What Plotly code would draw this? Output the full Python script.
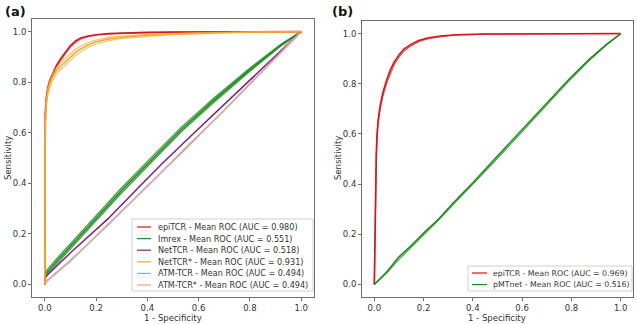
import plotly.graph_objects as go

# ---------------- data ----------------
# Panel (a)
a_names = ["epiTCR", "Imrex", "NetTCR", "NetTCR*", "ATM-TCR", "ATM-TCR*"]
a_auc = ["0.980", "0.551", "0.518", "0.931", "0.494", "0.494"]
a_colors = ["#d8141c", "#1f8a1f", "#7a1f82", "#f7a928", "#66c6cf", "#f2a09a"]

epi_a_x = [0, 0, 0.002, 0.006, 0.012, 0.02, 0.03, 0.045, 0.06, 0.08, 0.1, 0.12, 0.14, 0.17, 0.2, 0.25, 0.3, 0.4, 0.5, 0.7, 1.0]
epi_a_y = [0, 0.62, 0.68, 0.74, 0.78, 0.81, 0.835, 0.865, 0.89, 0.92, 0.945, 0.963, 0.975, 0.983, 0.988, 0.992, 0.994, 0.997, 0.998, 0.999, 1.0]
epi_a_fold_y = [0, 0.60, 0.67, 0.73, 0.775, 0.805, 0.83, 0.858, 0.882, 0.912, 0.938, 0.957, 0.97, 0.98, 0.986, 0.991, 0.993, 0.996, 0.998, 0.999, 1.0]

imrex_x = [0, 0.003, 0.05, 0.1, 0.193, 0.3, 0.375, 0.414, 0.531, 0.661, 0.792, 0.922, 1.0]
imrex_y = [0, 0.04, 0.095, 0.152, 0.254, 0.372, 0.452, 0.49, 0.611, 0.73, 0.843, 0.948, 1.0]
imrex_fold1_y = [0, 0.05, 0.105, 0.162, 0.264, 0.382, 0.462, 0.5, 0.62, 0.738, 0.849, 0.951, 1.0]
imrex_fold2_y = [0, 0.03, 0.086, 0.143, 0.245, 0.363, 0.443, 0.481, 0.603, 0.722, 0.837, 0.944, 1.0]

nettcr_x = [0, 0.003, 0.1, 0.245, 0.375, 0.46, 0.583, 0.727, 0.857, 1.0]
nettcr_y = [0, 0.03, 0.125, 0.258, 0.393, 0.48, 0.600, 0.737, 0.863, 1.0]

netstar_x = [0, 0, 0.002, 0.006, 0.012, 0.02, 0.03, 0.045, 0.06, 0.08, 0.1, 0.12, 0.14, 0.17, 0.2, 0.25, 0.3, 0.4, 0.5, 0.6, 0.7, 0.85, 1.0]
netstar_y = [0, 0.55, 0.64, 0.72, 0.765, 0.795, 0.82, 0.845, 0.862, 0.88, 0.9, 0.918, 0.932, 0.948, 0.96, 0.971, 0.978, 0.986, 0.991, 0.994, 0.997, 0.999, 1.0]
netstar_fold1_y = [0, 0.57, 0.66, 0.735, 0.778, 0.806, 0.832, 0.857, 0.875, 0.894, 0.913, 0.93, 0.943, 0.957, 0.967, 0.977, 0.983, 0.989, 0.993, 0.996, 0.998, 0.999, 1.0]
netstar_fold2_y = [0, 0.53, 0.62, 0.705, 0.752, 0.783, 0.808, 0.832, 0.849, 0.867, 0.887, 0.905, 0.92, 0.938, 0.951, 0.964, 0.973, 0.982, 0.988, 0.992, 0.996, 0.999, 1.0]

atm_x = [0, 0.005, 0.1, 0.25, 0.4, 0.55, 0.7, 0.85, 1.0]
atm_y = [0, 0.012, 0.095, 0.238, 0.39, 0.537, 0.69, 0.843, 1.0]
atmstar_x = [0, 0.005, 0.1, 0.25, 0.4, 0.55, 0.7, 0.85, 1.0]
atmstar_y = [0, 0.01, 0.092, 0.242, 0.387, 0.541, 0.688, 0.846, 1.0]

# Panel (b)
b_names = ["epiTCR", "pMTnet"]
b_auc = ["0.969", "0.516"]
b_colors = ["#d8141c", "#1f8a1f"]

epi_b_x = [0, 0.002, 0.005, 0.008, 0.011, 0.016, 0.024, 0.035, 0.05, 0.065, 0.08, 0.1, 0.12, 0.15, 0.18, 0.22, 0.27, 0.33, 0.45, 0.6, 0.8, 1.0]
epi_b_y = [0, 0.2, 0.4, 0.52, 0.6, 0.66, 0.715, 0.765, 0.815, 0.855, 0.885, 0.915, 0.938, 0.958, 0.972, 0.983, 0.99, 0.995, 0.998, 0.999, 1.0, 1.0]
epi_b_fold_y = [0, 0.18, 0.37, 0.5, 0.58, 0.645, 0.70, 0.752, 0.803, 0.843, 0.875, 0.906, 0.93, 0.952, 0.968, 0.98, 0.988, 0.994, 0.998, 0.999, 1.0, 1.0]

pmt_x = [0, 0.05, 0.1, 0.15, 0.2, 0.26, 0.32, 0.4, 0.483, 0.56, 0.64, 0.72, 0.794, 0.87, 0.94, 1.0]
pmt_y = [0, 0.05, 0.11, 0.155, 0.205, 0.26, 0.325, 0.405, 0.494, 0.575, 0.66, 0.745, 0.822, 0.895, 0.955, 1.0]
pmt_fold_y = [0, 0.045, 0.1, 0.148, 0.2, 0.256, 0.318, 0.398, 0.485, 0.566, 0.652, 0.737, 0.815, 0.89, 0.952, 1.0]

tick_vals = [0.0, 0.2, 0.4, 0.6, 0.8, 1.0]
tick_text = ["0.0", "0.2", "0.4", "0.6", "0.8", "1.0"]

# ---------------- figure ----------------
W, H = 637, 324
FONT = "DejaVu Sans"
TXT = "#333333"
fig = go.Figure()


def add(x, y, color, axis, width=1.5, opacity=1.0):
    fig.add_trace(go.Scatter(
        x=x, y=y, mode="lines", xaxis="x" + axis, yaxis="y" + axis,
        line=dict(color=color, width=width), opacity=opacity,
        showlegend=False, hoverinfo="skip"))


# panel (a) – folds (thin, lighter) then means
add(epi_a_x, epi_a_fold_y, a_colors[0], "", 1.2, 0.6)
add(imrex_x, imrex_fold1_y, a_colors[1], "", 1.5, 0.8)
add(imrex_x, imrex_fold2_y, a_colors[1], "", 1.5, 0.8)
add(imrex_x, imrex_y, a_colors[1], "", 1.5)
add(nettcr_x, nettcr_y, a_colors[2], "", 1.5)
add(atm_x, atm_y, a_colors[4], "", 1.5)
add(atmstar_x, atmstar_y, a_colors[5], "", 1.5)
add(epi_a_x, epi_a_y, a_colors[0], "", 1.6)
add(netstar_x, netstar_fold1_y, a_colors[3], "", 1.2, 0.7)
add(netstar_x, netstar_fold2_y, a_colors[3], "", 1.2, 0.7)
add(netstar_x, netstar_y, a_colors[3], "", 1.5)

# panel (b)
add(epi_b_x, epi_b_fold_y, b_colors[0], "2", 1.3, 0.7)
add(epi_b_x, epi_b_y, b_colors[0], "2", 1.6)
add(pmt_x, pmt_fold_y, b_colors[1], "2", 1.2, 0.8)
add(pmt_x, pmt_y, b_colors[1], "2", 1.5)

# axes
left_dom = [32 / W, 314 / W]
right_dom = [362 / W, 633 / W]
ydom_a = [(H - 297) / H, (H - 19) / H]
ydom_b = [(H - 297) / H, (H - 21) / H]

common = dict(range=[-0.05, 1.05], tickvals=tick_vals, ticktext=tick_text,
              showgrid=False, zeroline=False, showline=True, mirror=True,
              linecolor="#6e6e6e", linewidth=1, ticks="outside", ticklen=3,
              tickcolor="#6e6e6e", tickfont=dict(family=FONT, size=8.5, color=TXT))

fig.update_layout(
    width=W, height=H, margin=dict(l=0, r=0, t=0, b=0),
    paper_bgcolor="white", plot_bgcolor="white",
    font=dict(family=FONT, size=8.5, color=TXT),
    xaxis=dict(domain=left_dom, anchor="y", **common),
    yaxis=dict(domain=ydom_a, anchor="x", **common),
    xaxis2=dict(domain=right_dom, anchor="y2", **common),
    yaxis2=dict(domain=ydom_b, anchor="x2", **common),
)


def ptext(text, px, py, size=8.5, angle=0, color=TXT, bold=False):
    fig.add_annotation(text=f"<b>{text}</b>" if bold else text,
                       x=px / W, y=1 - py / H, xref="paper", yref="paper",
                       xanchor="center", yanchor="middle", showarrow=False,
                       borderpad=0, textangle=angle,
                       font=dict(family=FONT, size=size, color=color))


# axis titles
ptext("1 - Specificity", 173, 317.5)
ptext("1 - Specificity", 497, 317.5)
ptext("Sensitivity", 8, 158, angle=-90)
ptext("Sensitivity", 338, 158, angle=-90)

# panel labels
ptext("(a)", 15, 11, size=13, color="#111111", bold=True)
ptext("(b)", 342, 11, size=13, color="#111111", bold=True)


# custom compact legends (matplotlib style)
def legend(names, aucs, colors, box, first_y, step, line_x0, line_x1, text_x, fsize):
    x0, y0, x1, y1 = box
    fig.add_shape(type="rect", xref="paper", yref="paper",
                  x0=x0 / W, x1=x1 / W, y0=1 - y1 / H, y1=1 - y0 / H,
                  line=dict(color="#d0d0d0", width=1), fillcolor="rgba(255,255,255,0.85)")
    for i, (n, a, c) in enumerate(zip(names, aucs, colors)):
        yy = 1 - (first_y + i * step) / H
        fig.add_shape(type="line", xref="paper", yref="paper",
                      x0=line_x0 / W, x1=line_x1 / W, y0=yy, y1=yy,
                      line=dict(color=c, width=1.2))
        fig.add_annotation(text=f"{n} - Mean ROC (AUC = {a})", x=text_x / W, y=yy,
                           xref="paper", yref="paper", xanchor="left", yanchor="middle",
                           showarrow=False, borderpad=0,
                           font=dict(family=FONT, size=fsize, color=TXT))


legend(a_names, a_auc, a_colors, (132, 219, 313, 291), 227, 11.6, 137, 151, 157, 8.1)
legend(b_names, b_auc, b_colors, (468, 266, 632, 291), 273, 11.6, 472, 487, 492, 7.8)

fig.write_html("out.html", config={"displayModeBar": False},
               post_script="document.body.style.margin='0px';")
